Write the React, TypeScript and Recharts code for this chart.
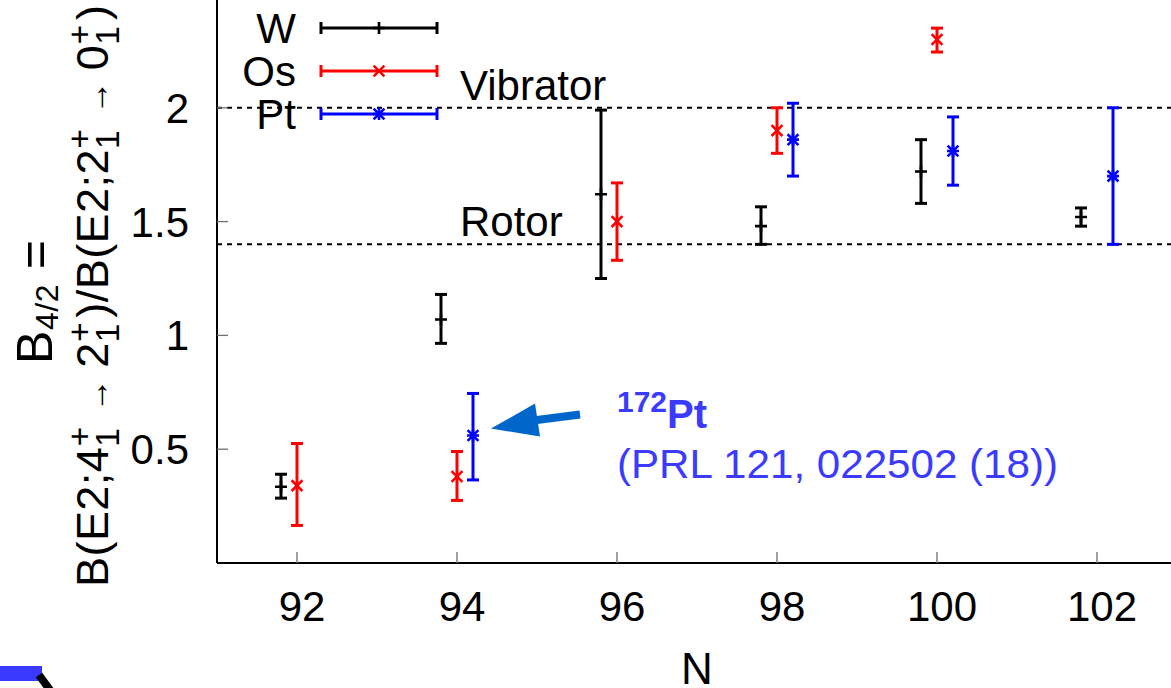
import React from 'react';
import {
  ScatterChart,
  Scatter,
  XAxis,
  YAxis,
  ErrorBar,
  ReferenceLine,
  ReferenceDot,
  Legend,
} from 'recharts';

// B4/2 ratios with their lower / upper error limits, by neutron number N
const W_N = [91.8, 93.8, 95.8, 97.8, 99.8, 101.8];
const W_B = [0.335, 1.07, 1.62, 1.48, 1.72, 1.52];
const W_LO = [0.285, 0.965, 1.25, 1.4, 1.58, 1.48];
const W_HI = [0.39, 1.18, 1.99, 1.565, 1.86, 1.56];

const OS_N = [92, 94, 96, 98, 100];
const OS_B = [0.34, 0.38, 1.5, 1.9, 2.3];
const OS_LO = [0.165, 0.275, 1.33, 1.8, 2.245];
const OS_HI = [0.525, 0.49, 1.67, 2.0, 2.35];

const PT_N = [94.2, 98.2, 100.2, 102.2];
const PT_B = [0.56, 1.86, 1.81, 1.7];
const PT_LO = [0.365, 1.7, 1.66, 1.4];
const PT_HI = [0.745, 2.02, 1.96, 2.0];

const X_TICKS = [92, 94, 96, 98, 100, 102];
const Y_TICKS = [0.5, 1, 1.5, 2];

// limits for the two collective models
const VIBRATOR = 2;
const ROTOR = 1.4;

const FONT = '"Liberation Sans", Arial, sans-serif';
const TICK_GRAY = '#707070';
const NOTE_BLUE = '#3b3bff';
const ARROW_BLUE = '#0066cc';

type Row = { n: number; b: number; err: [number, number] };

const toRows = (n: number[], b: number[], lo: number[], hi: number[]): Row[] =>
  n.map((v, i) => ({ n: v, b: b[i], err: [b[i] - lo[i], hi[i] - b[i]] }));

const SERIES = [
  { name: 'W', color: '#000000', marker: 'plus', rows: toRows(W_N, W_B, W_LO, W_HI) },
  { name: 'Os', color: '#ff0000', marker: 'cross', rows: toRows(OS_N, OS_B, OS_LO, OS_HI) },
  { name: 'Pt', color: '#0000ff', marker: 'star', rows: toRows(PT_N, PT_B, PT_LO, PT_HI) },
];

const markerPath = (kind: string, cx: number, cy: number, s: number) => {
  const plus = `M${cx - s},${cy}H${cx + s}M${cx},${cy - s}V${cy + s}`;
  const c = s * 0.9;
  const cross = `M${cx - c},${cy - c}L${cx + c},${cy + c}M${cx - c},${cy + c}L${cx + c},${cy - c}`;
  if (kind === 'plus') return plus;
  if (kind === 'cross') return cross;
  return plus + cross;
};

const XTick = ({ x, y, payload }: any) => (
  <g>
    <line x1={x} y1={y} x2={x} y2={y - 11} stroke={TICK_GRAY} strokeWidth={1.3} />
    <text x={x + 5} y={y + 58} textAnchor="middle" fontSize={42} fontFamily={FONT} fill="#000">
      {payload.value}
    </text>
  </g>
);

const YTick = ({ x, y, payload }: any) => (
  <g>
    <line x1={x} y1={y} x2={x + 11} y2={y} stroke={TICK_GRAY} strokeWidth={1.3} />
    <text x={x - 28} y={y + 15} textAnchor="end" fontSize={42} fontFamily={FONT} fill="#000">
      {payload.value}
    </text>
  </g>
);

// stacked subscript "1" and superscript "+" after a level number
const Level = ({ n, size }: { n: string; size: number }) => (
  <>
    <tspan>{n}</tspan>
    <tspan fontSize={size * 0.74} dy={size * 0.24}>1</tspan>
    <tspan fontSize={size * 0.74} dx={-size * 0.41} dy={-size * 0.62}>+</tspan>
    <tspan fontSize={size} dy={size * 0.38}>{'\u200a'}</tspan>
  </>
);

const Arrow = () => <tspan fontSize={34}>{' → '}</tspan>;

const YTitle = ({ viewBox }: any) => {
  const x0 = viewBox?.x ?? 0;
  const y0 = viewBox?.y ?? 14;
  const x1 = x0 + 52;
  const y1 = y0 + 308;
  const x2 = x0 + 108;
  const y2 = y0 + 302;
  const fs = 45;
  return (
    <g fontFamily={FONT} fill="#000">
      <text
        x={x1}
        y={y1}
        transform={`rotate(-90 ${x1} ${y1})`}
        textAnchor="middle"
        fontSize={50}
        textLength={124}
      >
        <tspan>B</tspan>
        <tspan fontSize={32} dy={6}>4/2</tspan>
        <tspan fontSize={50} dy={-6}> =</tspan>
      </text>
      <text
        x={x2}
        y={y2}
        transform={`rotate(-90 ${x2} ${y2})`}
        textAnchor="middle"
        fontSize={fs}
        textLength={582}
      >
        <tspan>B(E2;</tspan>
        <Level n="4" size={fs} />
        <Arrow />
        <Level n="2" size={fs} />
        <tspan>)/B(E2;</tspan>
        <Level n="2" size={fs} />
        <Arrow />
        <Level n="0" size={fs} />
        <tspan>)</tspan>
      </text>
    </g>
  );
};

const XTitle = ({ viewBox }: any) => (
  <text
    x={(viewBox?.x ?? 217) + (viewBox?.width ?? 960) / 2}
    y={(viewBox?.y ?? 583) + 121}
    textAnchor="middle"
    fontSize={44}
    fontFamily={FONT}
    fill="#000"
  >
    N
  </text>
);

const lineLabel = (text: string) => ({ viewBox }: any) => (
  <text x={viewBox.x + 243} y={viewBox.y - 8} fontSize={42} fontFamily={FONT} fill="#000">
    {text}
  </text>
);

// legend rows keep the W, Os, Pt order
const LegendBox = () => (
  <svg width={260} height={140} style={{ display: 'block' }}>
    {SERIES.map((s, i) => {
      const y = 28 + i * 43;
      return (
        <g key={s.name}>
          <text x={96} y={y + 15} textAnchor="end" fontSize={42} fontFamily={FONT} fill="#000">
            {s.name}
          </text>
          <path
            d={`M121,${y}H237M121,${y - 6}V${y + 6}M237,${y - 6}V${y + 6}`}
            stroke={s.color}
            strokeWidth={3}
            fill="none"
          />
          <path d={markerPath(s.marker, 179, y, 6)} stroke={s.color} strokeWidth={2.6} fill="none" />
        </g>
      );
    })}
  </svg>
);

// arrow and reference note pointing at the 172Pt point
const Callout = ({ cx, cy }: any) => (
  <g>
    <line x1={cx + 60} y1={cy - 15} x2={cx + 107} y2={cy - 21} stroke={ARROW_BLUE} strokeWidth={8} />
    <polygon points={`${cx + 18},${cy - 7} ${cx + 62},${cy - 32} ${cx + 67},${cy + 1}`} fill={ARROW_BLUE} />
    <text x={cx + 144} y={cy - 24} fill={NOTE_BLUE} fontFamily={FONT} fontWeight="bold">
      <tspan fontSize={30}>172</tspan>
      <tspan fontSize={40} dy={16}>Pt</tspan>
    </text>
    <text
      x={cx + 144}
      y={cy + 42}
      fill={NOTE_BLUE}
      fontSize={40}
      fontFamily={FONT}
      textLength={441}
      lengthAdjust="spacingAndGlyphs"
    >
      (PRL 121, 022502 (18))
    </text>
  </g>
);

export default function App() {
  return (
    <div
      style={{
        position: 'fixed',
        left: 0,
        top: 0,
        width: 1171,
        height: 688,
        overflow: 'hidden',
        background: '#fff',
      }}
    >
      <div style={{ position: 'absolute', left: 0, top: -20 }}>
        <ScatterChart width={1200} height={720} margin={{ top: 14, right: 23, bottom: 0, left: 0 }}>
          <XAxis
            dataKey="n"
            type="number"
            domain={[91, 103]}
            allowDataOverflow
            ticks={X_TICKS}
            interval={0}
            height={137}
            tickSize={0}
            tickMargin={0}
            tickLine={false}
            axisLine={{ stroke: '#000', strokeWidth: 2 }}
            tick={<XTick />}
            label={(p: any) => <XTitle {...p} />}
          />
          <XAxis
            xAxisId="top"
            orientation="top"
            mirror
            type="number"
            domain={[91, 103]}
            allowDataOverflow
            ticks={X_TICKS}
            interval={0}
            tickSize={11}
            tick={false}
            tickLine={{ stroke: TICK_GRAY, strokeWidth: 1.3 }}
            axisLine={{ stroke: '#000', strokeWidth: 2 }}
          />
          <YAxis
            dataKey="b"
            type="number"
            domain={[0, 2.5]}
            allowDataOverflow
            ticks={Y_TICKS}
            interval={0}
            width={217}
            tickSize={0}
            tickMargin={0}
            tickLine={false}
            axisLine={{ stroke: '#000', strokeWidth: 2 }}
            tick={<YTick />}
            label={(p: any) => <YTitle {...p} />}
          />
          <YAxis
            yAxisId="right"
            orientation="right"
            mirror
            type="number"
            domain={[0, 2.5]}
            allowDataOverflow
            ticks={Y_TICKS}
            interval={0}
            tickSize={11}
            tick={false}
            tickLine={{ stroke: TICK_GRAY, strokeWidth: 1.3 }}
            axisLine={{ stroke: '#000', strokeWidth: 2 }}
          />
          <ReferenceLine
            y={VIBRATOR}
            stroke="#000"
            strokeWidth={2}
            strokeDasharray="5 5"
            label={lineLabel('Vibrator')}
          />
          <ReferenceLine
            y={ROTOR}
            stroke="#000"
            strokeWidth={2}
            strokeDasharray="5 5"
            label={lineLabel('Rotor')}
          />
          {SERIES.map((s) => (
            <Scatter
              key={s.name}
              name={s.name}
              data={s.rows}
              fill={s.color}
              isAnimationActive={false}
              shape={(p: any) => (
                <path d={markerPath(s.marker, p.cx, p.cy, 6)} stroke={s.color} strokeWidth={2.6} fill="none" />
              )}
            >
              <ErrorBar
                dataKey="err"
                direction="y"
                width={6}
                stroke={s.color}
                strokeWidth={3}
                isAnimationActive={false}
              />
            </Scatter>
          ))}
          <ReferenceDot x={PT_N[0]} y={PT_B[0]} r={0} shape={(p: any) => <Callout {...p} />} />
          <Legend
            layout="vertical"
            align="center"
            verticalAlign="middle"
            wrapperStyle={{ left: 200, top: 20, width: 260, height: 140 }}
            content={() => <LegendBox />}
          />
        </ScatterChart>
      </div>
      <svg width={60} height={28} style={{ position: 'absolute', left: 0, top: 660 }}>
        <rect x={0} y={6} width={42} height={15} fill="#3a3aff" />
        <line x1={39} y1={15} x2={50} y2={30} stroke="#000" strokeWidth={8} />
      </svg>
    </div>
  );
}
